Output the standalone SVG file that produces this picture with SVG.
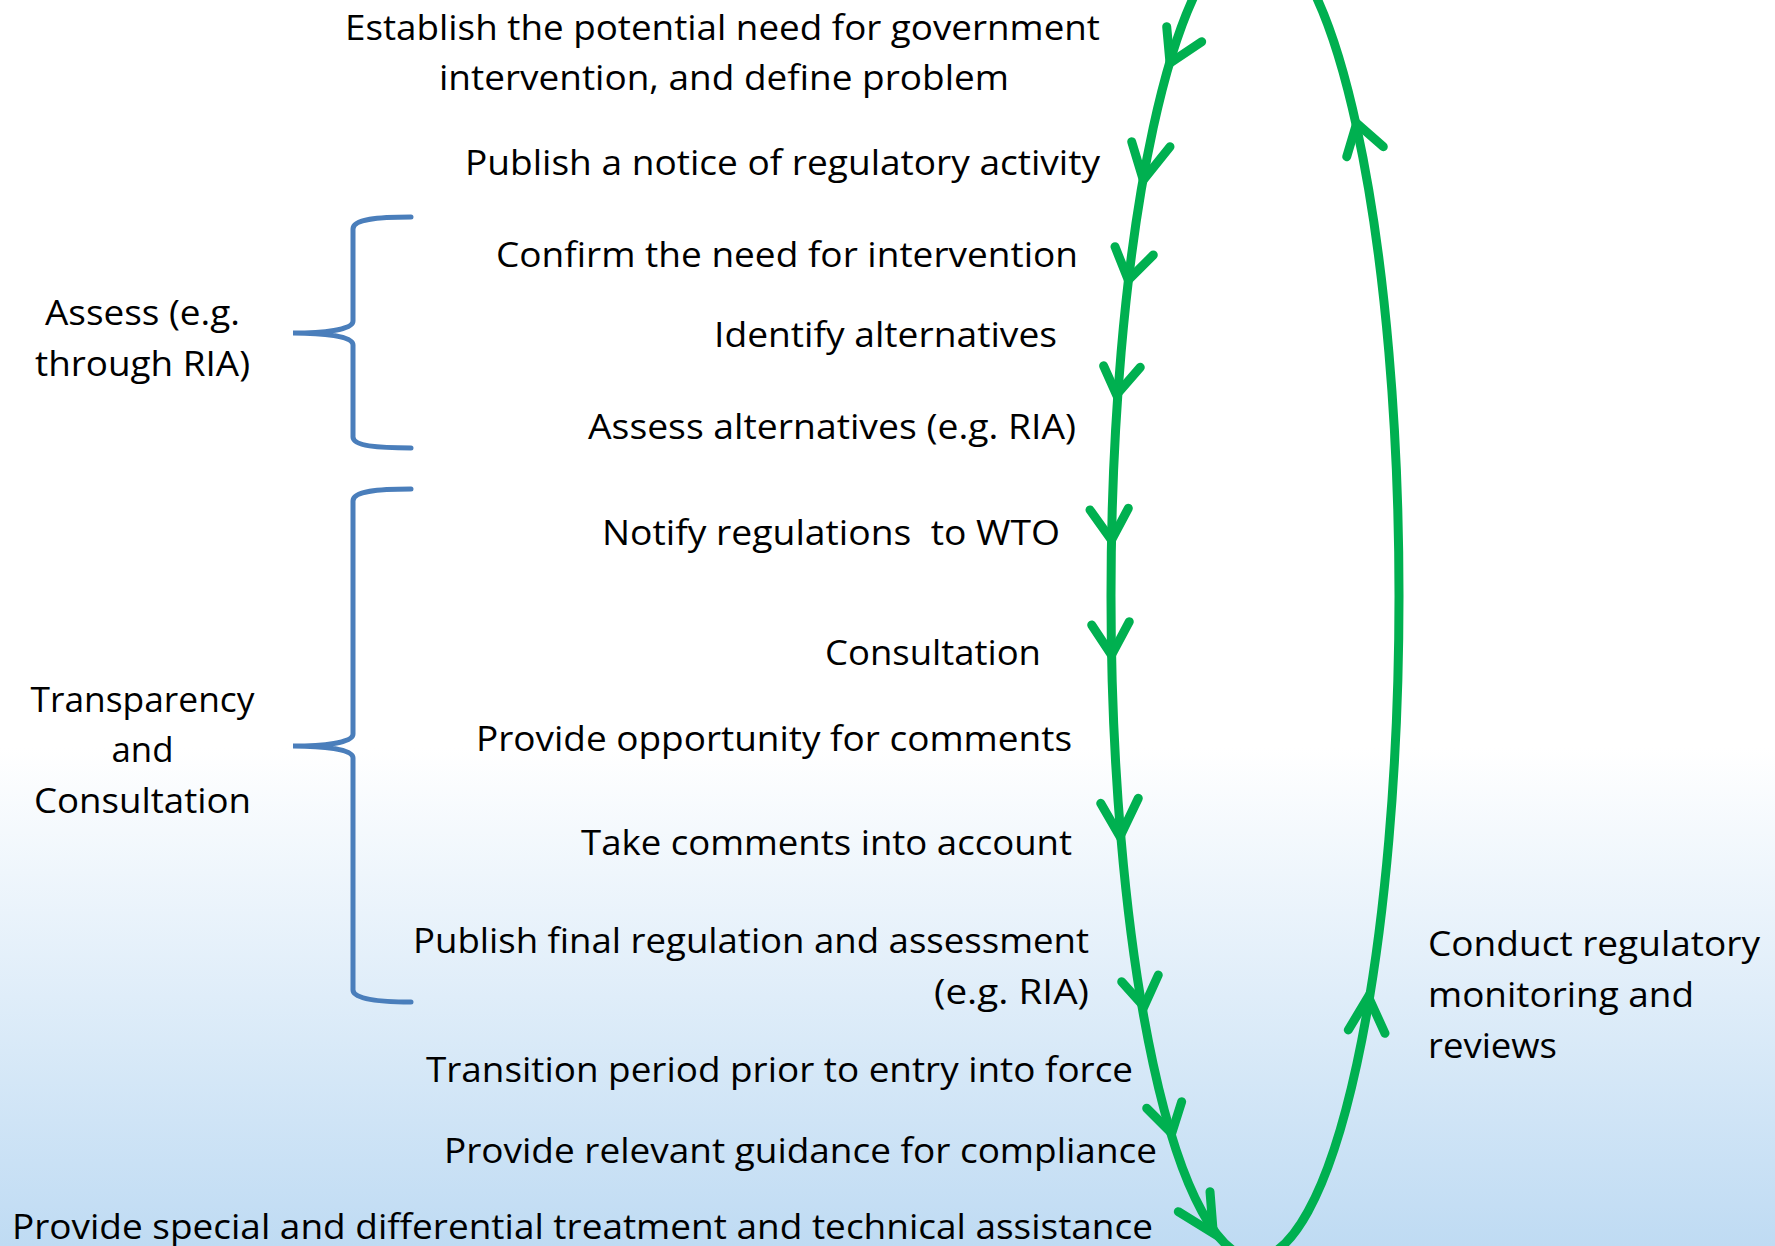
<svg xmlns="http://www.w3.org/2000/svg" width="1775" height="1246" viewBox="0 0 1775 1246">
<defs>
<linearGradient id="bg" x1="0" y1="0" x2="0" y2="1">
<stop offset="0" stop-color="#ffffff"/>
<stop offset="0.6" stop-color="#ffffff"/>
<stop offset="1" stop-color="#bfdbf3"/>
</linearGradient>
<style>
.t{font-family:"Open Sans","Liberation Sans",sans-serif;font-size:35px;fill:#000}
.c{text-anchor:middle}
.g{fill:none;stroke:#00b050;stroke-width:9}
.v{fill:none;stroke:#00b050;stroke-width:9;stroke-linecap:round;stroke-linejoin:miter}
.b{fill:none;stroke:#4a7ebb;stroke-width:5;stroke-linecap:round}
</style>
</defs>
<rect x="0" y="0" width="1775" height="1246" fill="url(#bg)"/>

<g id="connectors">
<ellipse class="g" cx="1255" cy="596" rx="144" ry="662"/>
<path class="v" d="M1166.7,26.7 L1170,63 L1201.7,41.7"/>
<path class="v" d="M1131.7,141.7 L1143.3,180 L1170,146.7"/>
<path class="v" d="M1115,246.7 L1128.3,280 L1153.3,255"/>
<path class="v" d="M1103.6,365.8 L1116.5,394.7 L1140.3,367.3"/>
<path class="v" d="M1090,510 L1111.5,540 L1128.3,508.3"/>
<path class="v" d="M1091.7,625 L1111.5,655 L1129.3,621.7"/>
<path class="v" d="M1100.7,803.3 L1120,836.7 L1138.3,798.3"/>
<path class="v" d="M1121.7,981.7 L1144,1006.7 L1158.3,975"/>
<path class="v" d="M1146.7,1108.3 L1171.7,1133.3 L1181.7,1101.7"/>
<path class="v" d="M1178.3,1211.7 L1213.3,1233.3 L1210,1191.7"/>
<path class="v" d="M1346.7,156.7 L1356.7,123.3 L1383.3,146.7"/>
<path class="v" d="M1348.3,1030 L1368.3,996.7 L1385,1033.3"/>
</g>

<g id="brace-assess">
<path class="b" d="M411,217 C378,217 353,219 353,229 L353,321 C353,330 322,333 293,333 C322,333 353,336 353,345 L353,437 C353,446 378,448 411,448"/>
</g>
<g id="brace-transparency">
<path class="b" d="M411,489 C378,489 353,491 353,501 L353,734 C353,743 322,746 293,746 C322,746 353,749 353,758 L353,990 C353,999 378,1002 411,1002"/>
</g>

<g id="label-assess">
<text class="t c" x="142.5" y="325" textLength="195" lengthAdjust="spacingAndGlyphs">Assess (e.g.</text>
<text class="t c" x="142.5" y="376" textLength="215" lengthAdjust="spacingAndGlyphs">through RIA)</text>
</g>
<g id="label-transparency">
<text class="t c" x="142.5" y="712" textLength="224" lengthAdjust="spacingAndGlyphs">Transparency</text>
<text class="t c" x="142.5" y="762" textLength="62" lengthAdjust="spacingAndGlyphs">and</text>
<text class="t c" x="142.5" y="813" textLength="217" lengthAdjust="spacingAndGlyphs">Consultation</text>
</g>

<g id="step-establish">
<text class="t" x="345" y="40" textLength="755" lengthAdjust="spacingAndGlyphs">Establish the potential need for government</text>
<text class="t" x="439" y="90" textLength="570" lengthAdjust="spacingAndGlyphs">intervention, and define problem</text>
</g>
<g id="step-publish-notice">
<text class="t" x="465" y="175" textLength="635" lengthAdjust="spacingAndGlyphs">Publish a notice of regulatory activity</text>
</g>
<g id="step-confirm">
<text class="t" x="496" y="267" textLength="582" lengthAdjust="spacingAndGlyphs">Confirm the need for intervention</text>
</g>
<g id="step-identify">
<text class="t" x="714" y="347" textLength="343" lengthAdjust="spacingAndGlyphs">Identify alternatives</text>
</g>
<g id="step-assess">
<text class="t" x="588" y="439" textLength="488" lengthAdjust="spacingAndGlyphs">Assess alternatives (e.g. RIA)</text>
</g>
<g id="step-notify">
<text class="t" x="602" y="545" textLength="458" lengthAdjust="spacingAndGlyphs" xml:space="preserve">Notify regulations  to WTO</text>
</g>
<g id="step-consultation">
<text class="t" x="825" y="665" textLength="216" lengthAdjust="spacingAndGlyphs">Consultation</text>
</g>
<g id="step-comments">
<text class="t" x="476" y="751" textLength="596" lengthAdjust="spacingAndGlyphs">Provide opportunity for comments</text>
</g>
<g id="step-take-comments">
<text class="t" x="581" y="855" textLength="491" lengthAdjust="spacingAndGlyphs">Take comments into account</text>
</g>
<g id="step-publish-final">
<text class="t" x="413" y="953" textLength="676" lengthAdjust="spacingAndGlyphs">Publish final regulation and assessment</text>
<text class="t" x="934" y="1004" textLength="155" lengthAdjust="spacingAndGlyphs">(e.g. RIA)</text>
</g>
<g id="step-transition">
<text class="t" x="426" y="1082" textLength="707" lengthAdjust="spacingAndGlyphs">Transition period prior to entry into force</text>
</g>
<g id="step-guidance">
<text class="t" x="444" y="1163" textLength="713" lengthAdjust="spacingAndGlyphs">Provide relevant guidance for compliance</text>
</g>
<g id="step-sdt">
<text class="t" x="12" y="1239" textLength="1141" lengthAdjust="spacingAndGlyphs">Provide special and differential treatment and technical assistance</text>
</g>
<g id="step-monitoring">
<text class="t" x="1428" y="956" textLength="332" lengthAdjust="spacingAndGlyphs">Conduct regulatory</text>
<text class="t" x="1428" y="1007" textLength="266" lengthAdjust="spacingAndGlyphs">monitoring and</text>
<text class="t" x="1428" y="1058" textLength="129" lengthAdjust="spacingAndGlyphs">reviews</text>
</g>
</svg>
